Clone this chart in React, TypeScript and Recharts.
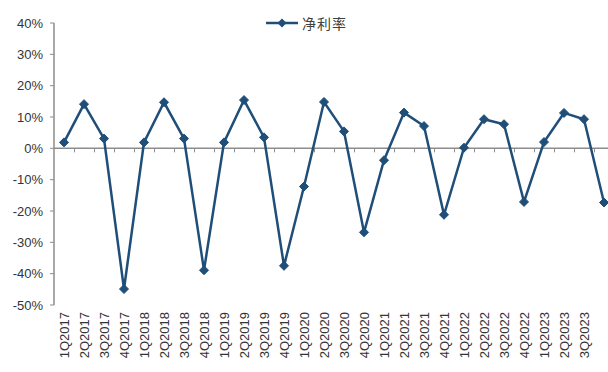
import { LineChart, Line, XAxis, YAxis, ReferenceLine, Legend } from "recharts";

const quarters = [
  "1Q2017", "2Q2017", "3Q2017", "4Q2017",
  "1Q2018", "2Q2018", "3Q2018", "4Q2018",
  "1Q2019", "2Q2019", "3Q2019", "4Q2019",
  "1Q2020", "2Q2020", "3Q2020", "4Q2020",
  "1Q2021", "2Q2021", "3Q2021", "4Q2021",
  "1Q2022", "2Q2022", "3Q2022", "4Q2022",
  "1Q2023", "2Q2023", "3Q2023", "4Q2023",
];

// 净利率, %
const netMargin = [
  1.9, 14.1, 3.1, -44.9,
  1.9, 14.7, 3.1, -38.9,
  1.9, 15.4, 3.5, -37.5,
  -12.2, 14.8, 5.4, -26.8,
  -3.8, 11.4, 7.1, -21.2,
  0.2, 9.3, 7.7, -17.1,
  2.0, 11.3, 9.3, -17.3,
];

const yTicks = [-50, -40, -30, -20, -10, 0, 10, 20, 30, 40];

const data = quarters.map((q, i) => ({ quarter: q, value: netMargin[i] }));

const BLUE = "#1F4E79";
const AXIS = "#8C8C8C";
const TEXT = "#333333";
const FONT = "'Liberation Sans', Arial, sans-serif";

function Diamond(props: any) {
  const { cx, cy, index } = props;
  if (cx == null || cy == null) return <g key={index} />;
  const r = 4.5;
  return (
    <polygon
      key={index}
      points={`${cx},${cy - r} ${cx + r},${cy} ${cx},${cy + r} ${cx - r},${cy}`}
      fill={BLUE}
      stroke={BLUE}
      strokeWidth={1}
    />
  );
}

function QuarterTick(props: any) {
  const { x, y, payload, index } = props;
  // the last label falls off the right edge in the original
  if (index === quarters.length - 1) return <g />;
  return (
    <g transform={`translate(${x},${y})`}>
      <text
        x={0}
        y={0}
        dy={4.5}
        textAnchor="end"
        transform="rotate(-90)"
        fontSize={13}
        fontFamily={FONT}
        fill={TEXT}
      >
        {payload.value}
      </text>
    </g>
  );
}

// zero line with Excel-style tick marks between categories
function ZeroAxis(props: any) {
  const { x1, y1, x2 } = props;
  const n = quarters.length;
  const step = (x2 - x1) / n;
  const marks = [];
  for (let i = 1; i <= n; i++) {
    const x = Math.round(x1 + i * step) + 0.5;
    marks.push(<line key={i} x1={x} x2={x} y1={y1} y2={y1 + 4} stroke={AXIS} strokeWidth={1} />);
  }
  return (
    <g>
      <line x1={x1} x2={x2} y1={y1} y2={y1} stroke={AXIS} strokeWidth={1.5} />
      {marks}
    </g>
  );
}

function LegendContent() {
  return (
    <div style={{ display: "flex", alignItems: "center" }}>
      <svg width={36} height={12}>
        <line x1={2} x2={34} y1={6} y2={6} stroke={BLUE} strokeWidth={2.5} />
        <polygon points="18,1.5 22.5,6 18,10.5 13.5,6" fill={BLUE} />
      </svg>
      <span
        style={{
          fontFamily: "'Noto Sans CJK SC', sans-serif",
          fontSize: 14,
          color: "#404040",
          marginLeft: 2,
          letterSpacing: 1,
        }}
      >
        净利率
      </span>
    </div>
  );
}

export default function App() {
  return (
    <div
      style={{
        position: "absolute",
        left: 0,
        top: 0,
        width: 608,
        height: 372,
        overflow: "hidden",
        background: "#fff",
      }}
    >
      <LineChart width={620} height={372} data={data} margin={{ top: 23, right: 6, bottom: 0, left: 0 }}>
        <XAxis
          dataKey="quarter"
          interval={0}
          axisLine={false}
          tickLine={false}
          tickSize={0}
          tickMargin={7}
          height={67}
          padding={{ left: 10, right: 10 }}
          tick={<QuarterTick />}
        />
        <YAxis
          domain={[-50, 40]}
          ticks={yTicks}
          interval={0}
          width={54}
          tickFormatter={(v: number) => `${v}%`}
          axisLine={{ stroke: AXIS, strokeWidth: 1.5 }}
          tickLine={{ stroke: AXIS }}
          tickSize={4}
          tickMargin={7}
          tick={{ fontSize: 13, fontFamily: FONT, fill: TEXT }}
        />
        <Legend
          layout="horizontal"
          verticalAlign="middle"
          align="center"
          wrapperStyle={{ top: 13, left: 264, width: 100 }}
          content={<LegendContent />}
        />
        <ReferenceLine y={0} shape={<ZeroAxis />} />
        <Line
          type="linear"
          dataKey="value"
          stroke={BLUE}
          strokeWidth={2.5}
          dot={Diamond}
          activeDot={false}
          isAnimationActive={false}
        />
      </LineChart>
    </div>
  );
}
